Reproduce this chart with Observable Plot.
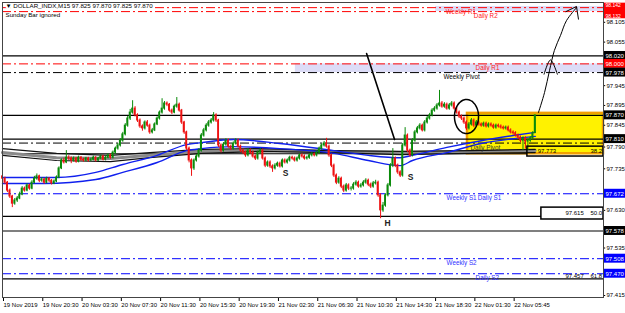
<!DOCTYPE html>
<html><head><meta charset="utf-8">
<script src="https://cdn.jsdelivr.net/npm/d3@7"></script>
<script src="https://cdn.jsdelivr.net/npm/@observablehq/plot@0.6"></script>
<style>body{margin:0;background:#fff;} svg{display:block}</style>
</head><body><div id="chart"></div>
<script>
// ---------- DATA ----------
const title = "\u25BC DOLLAR_INDX,M15 97.825 97.870 97.825 97.870";
const subtitle = "Sunday Bar ignored";
const firstOpen = 97.716;
const close = [
97.710,97.700,97.680,97.665,97.647,97.655,97.660,97.670,97.685,97.680,
97.693,97.685,97.700,97.710,97.716,97.705,97.708,97.700,97.710,97.705,
97.698,97.703,97.713,97.736,97.756,97.751,97.763,97.761,97.756,97.761,
97.753,97.763,97.758,97.756,97.761,97.756,97.758,97.763,97.756,97.761,
97.766,97.758,97.763,97.769,97.763,97.776,97.786,97.794,97.806,97.822,
97.844,97.862,97.877,97.887,97.870,97.857,97.842,97.837,97.852,97.844,
97.827,97.832,97.847,97.862,97.877,97.887,97.900,97.897,97.882,97.877,
97.892,97.897,97.882,97.852,97.827,97.786,97.756,97.736,97.756,97.766,
97.781,97.819,97.832,97.844,97.852,97.857,97.870,97.857,97.794,97.781,
97.796,97.806,97.791,97.786,97.799,97.806,97.791,97.781,97.776,97.769,
97.781,97.776,97.766,97.761,97.776,97.781,97.761,97.743,97.751,97.741,
97.736,97.743,97.748,97.741,97.756,97.751,97.756,97.763,97.761,97.756,
97.761,97.769,97.766,97.761,97.763,97.769,97.771,97.769,97.776,97.786,
97.794,97.799,97.791,97.769,97.743,97.718,97.700,97.710,97.690,97.680,
97.693,97.685,97.685,97.695,97.700,97.690,97.693,97.700,97.705,97.695,
97.690,97.698,97.700,97.668,97.630,97.642,97.668,97.693,97.743,97.761,
97.743,97.726,97.718,97.794,97.819,97.781,97.769,97.806,97.827,97.837,
97.844,97.832,97.852,97.862,97.870,97.882,97.887,97.895,97.900,97.892,
97.897,97.887,97.895,97.900,97.887,97.877,97.867,97.862,97.852,97.837,
97.847,97.857,97.844,97.852,97.847,97.844,97.849,97.842,97.847,97.844,
97.839,97.844,97.842,97.839,97.837,97.839,97.832,97.827,97.825,97.819,
97.814,97.806,97.812,97.804,97.806,97.812,97.825,97.870];
const high = [
97.720,97.714,97.703,97.684,97.668,97.660,97.665,97.676,97.690,97.689,
97.697,97.696,97.705,97.716,97.722,97.719,97.713,97.711,97.714,97.713,
97.708,97.707,97.717,97.740,97.760,97.762,97.781,97.768,97.765,97.765,
97.764,97.767,97.766,97.762,97.764,97.764,97.762,97.767,97.766,97.764,
97.770,97.769,97.767,97.773,97.772,97.780,97.790,97.799,97.811,97.827,
97.849,97.867,97.885,97.907,97.892,97.874,97.861,97.846,97.856,97.857,
97.848,97.837,97.851,97.866,97.881,97.912,97.905,97.904,97.900,97.886,
97.896,97.915,97.901,97.885,97.855,97.830,97.790,97.760,97.760,97.771,
97.786,97.824,97.837,97.849,97.857,97.862,97.877,97.874,97.860,97.798,
97.801,97.811,97.810,97.795,97.803,97.811,97.810,97.795,97.785,97.780,
97.786,97.785,97.780,97.770,97.780,97.786,97.785,97.765,97.755,97.755,
97.745,97.748,97.752,97.752,97.760,97.760,97.760,97.767,97.767,97.765,
97.765,97.773,97.773,97.770,97.767,97.773,97.776,97.775,97.780,97.790,
97.798,97.804,97.812,97.795,97.772,97.747,97.722,97.715,97.714,97.694,
97.698,97.697,97.690,97.700,97.705,97.704,97.698,97.705,97.710,97.709,
97.699,97.703,97.706,97.704,97.672,97.650,97.672,97.698,97.748,97.786,
97.765,97.747,97.730,97.799,97.839,97.823,97.785,97.811,97.832,97.842,
97.849,97.848,97.857,97.867,97.875,97.887,97.892,97.900,97.933,97.905,
97.902,97.901,97.900,97.905,97.904,97.891,97.881,97.871,97.866,97.856,
97.852,97.862,97.861,97.857,97.856,97.851,97.853,97.853,97.851,97.851,
97.848,97.848,97.848,97.846,97.843,97.843,97.843,97.836,97.831,97.829,
97.823,97.818,97.816,97.816,97.810,97.816,97.829,97.870];
const low = [
97.705,97.695,97.675,97.660,97.637,97.643,97.650,97.657,97.667,97.676,
97.677,97.681,97.682,97.697,97.706,97.700,97.701,97.696,97.697,97.700,
97.694,97.695,97.700,97.710,97.733,97.747,97.748,97.756,97.748,97.752,
97.749,97.750,97.754,97.752,97.753,97.752,97.753,97.755,97.752,97.753,
97.758,97.755,97.755,97.760,97.759,97.760,97.772,97.782,97.790,97.802,
97.818,97.840,97.857,97.873,97.866,97.852,97.837,97.830,97.833,97.840,
97.822,97.823,97.829,97.844,97.858,97.873,97.883,97.892,97.878,97.872,
97.874,97.888,97.878,97.847,97.822,97.781,97.750,97.716,97.731,97.752,
97.762,97.777,97.815,97.828,97.840,97.848,97.853,97.852,97.789,97.775,
97.777,97.792,97.787,97.781,97.782,97.795,97.787,97.776,97.771,97.764,
97.765,97.772,97.762,97.756,97.757,97.772,97.757,97.738,97.739,97.736,
97.726,97.732,97.739,97.737,97.737,97.747,97.747,97.752,97.757,97.752,
97.752,97.757,97.762,97.757,97.757,97.759,97.765,97.765,97.765,97.772,
97.782,97.790,97.787,97.764,97.738,97.713,97.695,97.696,97.685,97.675,
97.676,97.680,97.679,97.681,97.691,97.686,97.686,97.689,97.696,97.690,
97.685,97.686,97.694,97.663,97.609,97.625,97.638,97.664,97.689,97.738,
97.738,97.721,97.713,97.714,97.790,97.776,97.764,97.765,97.802,97.823,
97.833,97.828,97.828,97.848,97.858,97.866,97.878,97.883,97.891,97.888,
97.888,97.883,97.883,97.891,97.883,97.873,97.862,97.857,97.847,97.832,
97.833,97.843,97.839,97.840,97.843,97.840,97.840,97.838,97.838,97.840,
97.835,97.835,97.838,97.835,97.833,97.833,97.828,97.823,97.820,97.815,
97.809,97.801,97.781,97.785,97.781,97.802,97.808,97.825];

// time axis (bar index of each label)
const timeIdx = [0,16,32,48,64,80,96,112,128,144,160,176,192,208];
const timeLabels = ["19 Nov 2019","19 Nov 20:30","20 Nov 03:30","20 Nov 07:30","20 Nov 11:30","20 Nov 15:30","20 Nov 19:30","21 Nov 02:30","21 Nov 06:30","21 Nov 10:30","21 Nov 14:30","21 Nov 18:30","22 Nov 01:30","22 Nov 05:45"];

// price axis
const priceTicks = [98.105, 98.055, 97.945, 97.895, 97.845, 97.790, 97.735, 97.630, 97.535, 97.415];
const topBoxVals = [98.132, 98.142];          // two stacked red labels at the top
const boxVals   = [98.020, 98.000, 97.978, 97.870, 97.810, 97.672, 97.578, 97.508, 97.470];
const boxColors = ["black","red","black","black","black","blue","black","blue","blue"];

// moving averages (sampled at bar index)
const blueIdxA = [0,22,38,49,63,75,81,94,113,135,149,162,167,181,195,208,217];
const blueA = [97.713,97.713,97.726,97.746,97.769,97.796,97.801,97.809,97.799,97.781,97.769,97.763,97.769,97.789,97.806,97.819,97.827];
const blueIdxB = [0,17,38,49,63,75,81,94,113,135,149,162,167,181,195,208,217];
const blueB = [97.698,97.698,97.708,97.726,97.751,97.781,97.786,97.791,97.786,97.774,97.756,97.743,97.756,97.776,97.799,97.811,97.817];
const darkIdx = [0,22,44,60,81,105,134,162,191,217];
const darkA = [97.786,97.774,97.769,97.776,97.784,97.786,97.781,97.779,97.781,97.784];
const greyMA = [97.776,97.763,97.761,97.769,97.779,97.781,97.779,97.776,97.779,97.781];
const darkB = [97.769,97.756,97.753,97.763,97.774,97.779,97.776,97.771,97.774,97.776];

// pivot levels
const redLevels = [98.142, 98.132, 98.000];
const blackDashLevels = [97.978, 97.800];
const blueLevels = [97.672, 97.508, 97.470];
const solidLevels = [98.020, 97.870, 97.810, 97.578];
const levelNames = ["Weekly R1","Daily R2","Daily R1","Weekly Pivot","Daily Pivot","Weekly S1","Daily S1","Weekly S2","Daily S2"];
const levelNameVals = [98.142, 98.132, 98.000, 97.978, 97.800, 97.672, 97.672, 97.508, 97.470];
const levelNameIdx = [180.5, 192.0, 192.7, 179.6, 190.6, 180.9, 193.6, 180.9, 192.7];
const levelNameColors = ["red","red","red","black","grey","blue","blue","blue","blue"];

// fibonacci levels
const fibVals = [97.773, 97.615, 97.457];
const fibPct = ["38.2","50.0","61.8"];
const fibEnd = [213.8, 219.5, 244.8];
const fibPriceIdx = [218.0, 229.3, 229.3];
const fibBoxStart = [213.8, 219.5];
const fibBoxTop = [97.791, 97.637];
const fibBoxBottom = [97.766, 97.607];

// zones
const bandStart = [176.4, 119.3];
const bandTop = [98.145, 98.000];
const bandBottom = [98.132, 97.978];
const zoneStart = [189.4];
const zoneTop = [97.875];
const zoneBottom = [97.773];

// hand drawn annotations
const trendIdx = [148.3, 159.7];
const trendP = [98.026, 97.809];
const arrowIdx = [218.3, 220.8, 222.8, 224.8, 227.3, 229.7, 233.8];
const arrowP = [97.877, 97.928, 97.983, 98.034, 98.072, 98.109, 98.142];
const head1Idx = [220.6, 223.2, 226.0];
const head1P = [97.974, 98.010, 97.974];
const head2Idx = [229.5, 233.8, 234.6];
const head2P = [98.132, 98.145, 98.113];
const ellipseC = [189.0, 97.867];
const ellipseR = [4.9, 0.043];
const markLabels = ["S","S","H"];
const markIdx = [115.3, 166.2, 156.8];
const markP = [97.723, 97.713, 97.597];

// ---------- BUILD ----------
const xMax = 244.8;
const colorMap = {red:"#ff0000", black:"#000000", blue:"#0000ff", grey:"#333333"};
const levelTextColor = {red:"#ff2020", black:"#000000", blue:"#3030ff", grey:"#333333"};
const bull = "#0a8a0a", bear = "#ee1111";
const bars = close.map((c, i) => {
  const o = i === 0 ? firstOpen : close[i - 1];
  return {i, o, c, h: high[i], l: low[i], up: c >= o};
});
const line = (xs, ys) => xs.map((x, k) => ({x, y: ys[k]}));
const ell = d3.range(0, 361, 8).map(a => ({
  x: ellipseC[0] + ellipseR[0] * Math.cos(a * Math.PI / 180),
  y: ellipseC[1] + ellipseR[1] * Math.sin(a * Math.PI / 180)
}));
const dashDot = "9,3,2,3";
const idx = n => d3.range(n);
const bh = 0.0113; // half box height in price units (≈4.5px)

const chart = Plot.plot({
  width: 625, height: 313,
  marginTop: 2, marginRight: 22, marginBottom: 16, marginLeft: 2,
  x: {domain: [0, xMax]},
  y: {domain: [97.410, 98.155], axis: null},
  style: {fontFamily: "Liberation Sans, Arial, sans-serif", fontSize: "6px", background: "#fff", overflow: "visible"},
  marks: [
    // zones
    Plot.rect(idx(bandStart.length), {x1: k => bandStart[k], x2: () => xMax, y1: k => bandBottom[k], y2: k => bandTop[k], fill: "#dcdcf7"}),
    Plot.rect(idx(zoneStart.length), {x1: k => zoneStart[k], x2: () => xMax, y1: k => zoneBottom[k], y2: k => zoneTop[k], fill: "#fff200", stroke: "#f2a000", strokeWidth: 2.5}),
    // levels
    Plot.ruleY(solidLevels, {stroke: "#000", strokeWidth: 1.2}),
    Plot.ruleY(idx(fibVals.length), {y: k => fibVals[k], x1: () => 0, x2: k => fibEnd[k], stroke: "#000", strokeWidth: 1.2}),
    Plot.ruleY(redLevels, {stroke: "#ff0000", strokeDasharray: dashDot}),
    Plot.ruleY(blackDashLevels, {stroke: "#000", strokeDasharray: dashDot}),
    Plot.ruleY(blueLevels, {stroke: "#0000ff", strokeDasharray: dashDot}),
    // moving averages
    Plot.line(line(darkIdx, greyMA), {x: "x", y: "y", stroke: "#8a8a8a", strokeWidth: 3}),
    Plot.line(line(darkIdx, darkA), {x: "x", y: "y", stroke: "#111", strokeWidth: 1.2}),
    Plot.line(line(darkIdx, darkB), {x: "x", y: "y", stroke: "#111", strokeWidth: 1.2}),
    Plot.line(line(blueIdxA, blueA), {x: "x", y: "y", stroke: "#1020ee", strokeWidth: 1.4, curve: "monotone-x"}),
    Plot.line(line(blueIdxB, blueB), {x: "x", y: "y", stroke: "#1020ee", strokeWidth: 1.4, curve: "monotone-x"}),
    // candles
    Plot.ruleX(bars, {x: "i", y1: "l", y2: "h", stroke: d => d.up ? bull : bear, strokeWidth: 1}),
    Plot.rect(bars, {x1: d => d.i - 0.38, x2: d => d.i + 0.38, y1: "o", y2: "c", fill: d => d.up ? bull : bear, insetTop: -0.5, insetBottom: -0.5}),
    // fib boxes & labels
    Plot.rect(idx(fibBoxStart.length), {x1: k => fibBoxStart[k], x2: () => xMax, y1: k => fibBoxBottom[k], y2: k => fibBoxTop[k], fill: "none", stroke: "#000", strokeWidth: 1.5}),
    Plot.text(idx(fibVals.length), {x: k => fibPriceIdx[k], y: k => fibVals[k], text: k => fibVals[k].toFixed(3), dy: -3, textAnchor: "start", fill: "#000", fontSize: 6}),
    Plot.text(idx(fibVals.length), {x: () => 239.5, y: k => fibVals[k], text: k => fibPct[k], dy: -3, textAnchor: "start", fill: "#000", fontSize: 6}),
    // level names
    Plot.text(idx(levelNames.length), {x: k => levelNameIdx[k], y: k => levelNameVals[k], text: k => levelNames[k], dy: 4.5, textAnchor: "start", fill: k => levelTextColor[levelNameColors[k]], fontSize: 6.3}),
    // annotations
    Plot.line(line(trendIdx, trendP), {x: "x", y: "y", stroke: "#000", strokeWidth: 1.6}),
    Plot.line(ell, {x: "x", y: "y", stroke: "#000", strokeWidth: 1.5, curve: "catmull-rom"}),
    Plot.line(line(arrowIdx, arrowP), {x: "x", y: "y", stroke: "#000", strokeWidth: 1, curve: "catmull-rom"}),
    Plot.line(line(head1Idx, head1P), {x: "x", y: "y", stroke: "#000", strokeWidth: 1, curve: "catmull-rom"}),
    Plot.line(line(head2Idx, head2P), {x: "x", y: "y", stroke: "#000", strokeWidth: 1}),
    Plot.text(idx(markLabels.length), {x: k => markIdx[k], y: k => markP[k], text: k => markLabels[k], fontSize: 8.5, fontWeight: "bold", fill: "#222"}),
    // title
    Plot.text([title], {frameAnchor: "top-left", dx: 3, dy: 1.5, text: d => d, fill: "#000", fontSize: 6.2, stroke: "#fff", strokeWidth: 4, paintOrder: "stroke"}),
    Plot.text([subtitle], {frameAnchor: "top-left", dx: 3, dy: 10, text: d => d, fill: "#000", fontSize: 6.2}),
    // price axis
    Plot.ruleY(priceTicks, {x1: () => xMax, x2: () => xMax + 0.9, stroke: "#000"}),
    Plot.text(priceTicks, {x: () => xMax, y: d => d, text: d => d.toFixed(3), dx: 3, textAnchor: "start", fill: "#000", fontSize: 6}),
    Plot.rect(topBoxVals, {x1: () => xMax, x2: () => xMax + 10, y1: d => d - bh * 1.6, y2: d => d + bh, fill: "#ff0000"}),
    Plot.text([topBoxVals[1]], {x: () => xMax, y: d => d, text: d => d.toFixed(3), dx: 2, dy: -2.5, textAnchor: "start", fill: "#fff", fontSize: 5}),
    Plot.text([topBoxVals[0]], {x: () => xMax, y: d => d, text: d => d.toFixed(3), dx: 2, dy: 4.5, textAnchor: "start", fill: "#fff", fontSize: 5}),
    Plot.rect(idx(boxVals.length), {x1: () => xMax, x2: () => xMax + 10, y1: k => boxVals[k] - bh, y2: k => boxVals[k] + bh, fill: k => colorMap[boxColors[k]]}),
    Plot.text(idx(boxVals.length), {x: () => xMax, y: k => boxVals[k], text: k => boxVals[k].toFixed(3), dx: 2, textAnchor: "start", fill: "#fff", fontSize: 6}),
    // time axis
    Plot.axisX(timeIdx, {anchor: "bottom", tickFormat: d => timeLabels[timeIdx.indexOf(d)], textAnchor: "start", dx: 1, tickSize: 4, tickPadding: 1, fontSize: 6, fill: "#000", stroke: "#000", label: null}),
    Plot.frame({stroke: "#444"})
  ]
});
document.getElementById("chart").appendChild(chart);
</script>
</body></html>
